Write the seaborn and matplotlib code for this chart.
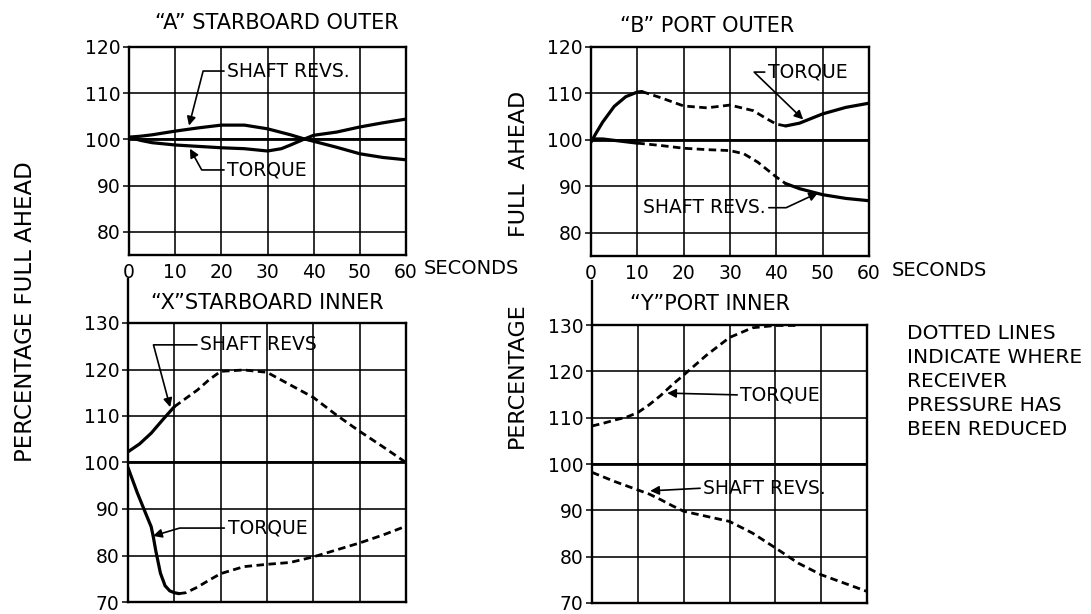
import numpy as np
import matplotlib
matplotlib.use("Agg")
import matplotlib.pyplot as plt
import seaborn as sns

# ---------------- data ----------------
SECONDS_TICKS = [0, 10, 20, 30, 40, 50, 60]
TICKS_TOP = [80, 90, 100, 110, 120]
TICKS_BOTTOM = [70, 80, 90, 100, 110, 120, 130]
BASELINE = 100

# "A" starboard outer (all solid)
A_REVS_T = [0, 2.5, 5, 10, 15, 20, 25, 30, 35, 38, 40, 45, 50, 55, 60]
A_REVS_V = [100.5, 100.7, 101.0, 101.8, 102.5, 103.1, 103.1, 102.3, 101.0, 100.1, 99.6, 98.3, 96.9, 96.1, 95.6]
A_TORQ_T = [0, 2.5, 5, 10, 15, 20, 25, 30, 33, 35, 38, 40, 45, 50, 55, 60]
A_TORQ_V = [100.5, 99.8, 99.3, 98.8, 98.5, 98.2, 98.0, 97.5, 98.0, 98.8, 100.1, 100.9, 101.6, 102.7, 103.6, 104.4]
A_REVS_DASHED = []
A_TORQ_DASHED = []

# "B" port outer
B_TORQ_T = [0, 1, 2.5, 5, 7.5, 10, 11, 15, 20, 25, 30, 35, 38, 40, 42, 45, 50, 55, 60]
B_TORQ_V = [99.5, 101.3, 103.8, 107.2, 109.3, 110.3, 110.4, 109.1, 107.3, 106.9, 107.5, 106.3, 104.5, 103.4, 103.0, 103.6, 105.6, 107.0, 107.9]
B_TORQ_DASHED = [(11, 42)]
B_REVS_T = [0, 2.5, 5, 10, 15, 20, 25, 30, 33, 36, 40, 42, 45, 50, 55, 60]
B_REVS_V = [100.2, 100.2, 99.9, 99.3, 98.8, 98.2, 97.9, 97.7, 97.0, 95.2, 92.0, 90.6, 89.5, 88.2, 87.4, 86.9]
B_REVS_DASHED = [(10, 42)]

# "X" starboard inner
X_REVS_T = [0, 2.5, 5, 7.5, 10, 12.5, 15, 17.5, 20, 25, 30, 35, 40, 45, 50, 55, 60]
X_REVS_V = [102.3, 104.0, 106.3, 109.2, 112.0, 113.8, 115.6, 117.8, 119.6, 119.9, 119.4, 116.7, 114.0, 110.2, 106.7, 103.4, 100.0]
X_REVS_DASHED = [(10, 60)]
X_TORQ_T = [0, 2, 4, 5, 5.5, 6, 7, 8, 9, 10, 11, 12.5, 15, 17.5, 20, 25, 30, 35, 40, 45, 50, 55, 60]
X_TORQ_V = [98.9, 93.5, 88.6, 86.2, 83.8, 81.0, 76.2, 73.5, 72.4, 72.0, 71.8, 72.0, 73.2, 74.7, 76.1, 77.6, 78.1, 78.5, 79.7, 81.2, 82.7, 84.4, 86.3]
X_TORQ_DASHED = [(11, 60)]

# "Y" port inner (all dashed)
Y_TORQ_T = [0, 2.5, 5, 7.5, 10, 12.5, 15, 17.5, 20, 25, 30, 35, 40, 45]
Y_TORQ_V = [108.2, 108.8, 109.5, 110.1, 111.1, 112.8, 114.8, 117.1, 119.2, 123.5, 127.3, 129.4, 129.9, 129.9]
Y_TORQ_DASHED = [(0, 45)]
Y_REVS_T = [0, 5, 10, 12.5, 15, 17.5, 20, 25, 30, 35, 40, 45, 50, 55, 60]
Y_REVS_V = [98.2, 96.2, 94.4, 93.5, 92.3, 91.0, 89.8, 88.7, 87.6, 85.1, 81.9, 78.6, 76.1, 74.3, 72.5]
Y_REVS_DASHED = [(0, 60)]

TITLES = ["\u201cA\u201d STARBOARD OUTER", "\u201cB\u201d PORT OUTER",
          "\u201cX\u201dSTARBOARD INNER", "\u201cY\u201dPORT INNER"]
NOTE = "DOTTED LINES\nINDICATE WHERE\nRECEIVER\nPRESSURE HAS\nBEEN REDUCED"

# ---------------- style ----------------
sns.set_style("white")
plt.rcParams["font.family"] = ["DejaVu Sans"]
plt.rcParams["text.color"] = "black"

W, H = 1091, 614
fig = plt.figure(figsize=(W / 100, H / 100), dpi=100)


def px_axes(l, r, t, b):
    return fig.add_axes([l / W, 1 - b / H, (r - l) / W, (b - t) / H])


axA = px_axes(129, 406, 47, 255)
axB = px_axes(591, 869, 47, 256)
axX = px_axes(128, 406, 323, 602)
axY = px_axes(592, 867, 325, 603)

DASH = (2.7, 1.6)


def segments(t, v, dashed):
    t = np.asarray(t, float)
    v = np.asarray(v, float)
    edges = sorted(set([t[0], t[-1]] + [e for r in dashed for e in r if t[0] <= e <= t[-1]]))
    out = []
    for a, b in zip(edges[:-1], edges[1:]):
        m = (t >= a) & (t <= b)
        is_d = any(a >= r[0] and b <= r[1] for r in dashed)
        out.append((t[m], v[m], is_d))
    return out


def draw_series(ax, t, v, dashed):
    for ts, vs, d in segments(t, v, dashed):
        if d:
            sns.lineplot(x=ts, y=vs, ax=ax, color="black", linewidth=2.0,
                         linestyle=(0, DASH), estimator=None, sort=False)
        else:
            sns.lineplot(x=ts, y=vs, ax=ax, color="black", linewidth=2.3,
                         estimator=None, sort=False, solid_capstyle="round",
                         solid_joinstyle="round")


def style_axes(ax, ylim, yticks, show_x):
    ax.set_xlim(0, 60)
    ax.set_ylim(*ylim)
    ax.set_xticks(SECONDS_TICKS)
    ax.set_yticks(yticks)
    ax.grid(True, color="black", linewidth=1.15)
    ax.axhline(BASELINE, color="black", linewidth=2.0, zorder=2)
    for s in ax.spines.values():
        s.set_color("black")
        s.set_linewidth(1.7)
        s.set_visible(True)
    ax.tick_params(axis="y", length=4, width=1.1, pad=2, labelsize=13.5, colors="black", left=True)
    if show_x:
        ax.tick_params(axis="x", length=0, pad=6, labelsize=13.5, colors="black")
        ax.set_xticklabels([str(s) for s in SECONDS_TICKS])
    else:
        ax.tick_params(axis="x", length=0, labelbottom=False)
    ax.set_xlabel("")
    ax.set_ylabel("")


def note(ax, label, xy, xytext, angleB=None, relpos=(0, 0.5)):
    props = dict(arrowstyle="-|>", color="black", lw=1.2, shrinkA=0, shrinkB=0,
                 relpos=relpos, mutation_scale=13)
    if angleB is not None:
        props["connectionstyle"] = f"angle,angleA=0,angleB={angleB},rad=0"
    ax.annotate(label, xy=xy, xytext=xytext, textcoords="data", ha="left",
                va="center", fontsize=13.5, arrowprops=props, zorder=5)


# Panel A
draw_series(axA, A_REVS_T, A_REVS_V, A_REVS_DASHED)
draw_series(axA, A_TORQ_T, A_TORQ_V, A_TORQ_DASHED)
style_axes(axA, (75, 120), TICKS_TOP, True)
axA.set_title(TITLES[0], x=0.534, pad=13, fontsize=15)
note(axA, "SHAFT REVS.", (13, 103.0), (21.3, 114.8), angleB=75.5)
note(axA, "TORQUE", (13.2, 98.0), (21.3, 93.4), angleB=-61)

# Panel B
draw_series(axB, B_TORQ_T, B_TORQ_V, B_TORQ_DASHED)
draw_series(axB, B_REVS_T, B_REVS_V, B_REVS_DASHED)
style_axes(axB, (75, 120), TICKS_TOP, True)
axB.set_title(TITLES[1], x=0.417, pad=11, fontsize=15)
note(axB, "TORQUE", (45.8, 104.4), (38.2, 114.6), angleB=-44)
note(axB, "SHAFT REVS.", (49, 88.6), (11.2, 85.4), angleB=25, relpos=(1, 0.5))

# Panel X
draw_series(axX, X_REVS_T, X_REVS_V, X_REVS_DASHED)
draw_series(axX, X_TORQ_T, X_TORQ_V, X_TORQ_DASHED)
style_axes(axX, (70, 130), TICKS_BOTTOM, False)
axX.spines["left"].set_bounds(70, 139.5)
axX.set_title(TITLES[2], x=0.5, pad=10, fontsize=15)
note(axX, "SHAFT REVS", (9.1, 111.9), (15.6, 125.3), angleB=-75)
note(axX, "TORQUE", (5.4, 84.2), (21.5, 85.9), angleB=16.5)

# Panel Y
draw_series(axY, Y_TORQ_T, Y_TORQ_V, Y_TORQ_DASHED)
draw_series(axY, Y_REVS_T, Y_REVS_V, Y_REVS_DASHED)
style_axes(axY, (70, 130), TICKS_BOTTOM, False)
axY.spines["left"].set_bounds(70, 139.5)
axY.set_title(TITLES[3], x=0.43, pad=11, fontsize=15)
note(axY, "TORQUE", (16.4, 115.3), (32.4, 114.9))
note(axY, "SHAFT REVS.", (12.7, 94.2), (24.3, 94.8))

# Figure texts
fig.text(424 / W, 1 - 268 / H, "SECONDS", ha="left", va="center", fontsize=14)
fig.text(892 / W, 1 - 270 / H, "SECONDS", ha="left", va="center", fontsize=14)
fig.text(26 / W, 1 - 312 / H, "PERCENTAGE FULL AHEAD", rotation=90, ha="center", va="center", fontsize=16.5)
fig.text(519 / W, 1 - 164 / H, "FULL  AHEAD", rotation=90, ha="center", va="center", fontsize=16)
fig.text(517 / W, 1 - 375 / H, "PERCENTAGE", rotation=90, ha="center", va="center", fontsize=16)
fig.text(907 / W, 1 - 324 / H, NOTE, ha="left", va="top", fontsize=14.5, linespacing=1.33)

fig.savefig("out.png", dpi=100, facecolor="white")
